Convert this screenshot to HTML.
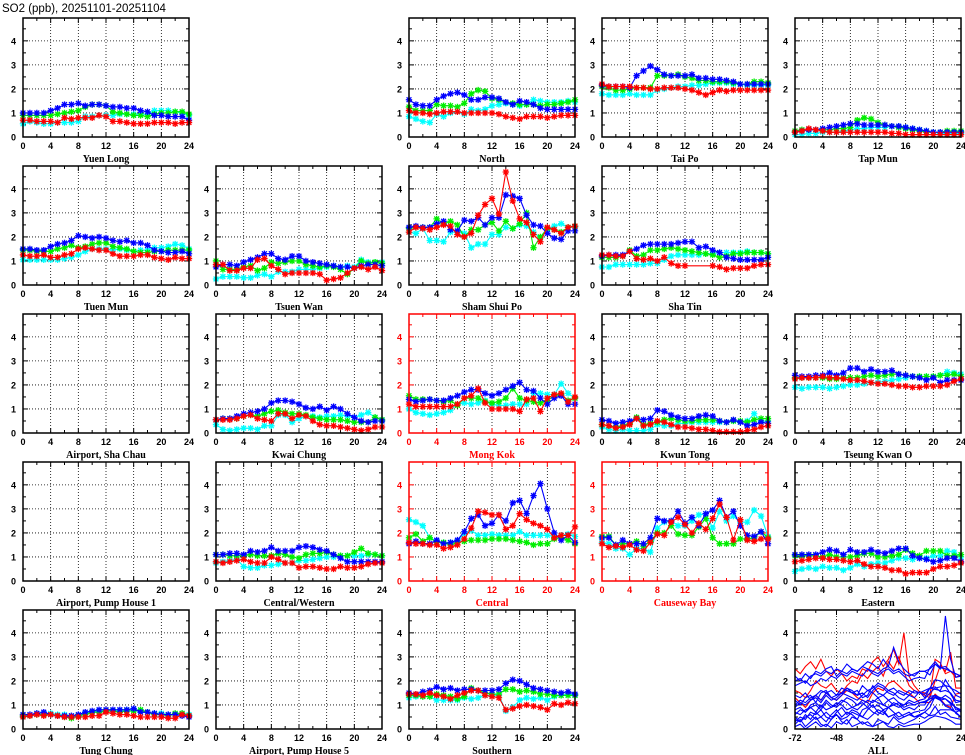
<!DOCTYPE html>
<html><head><meta charset="utf-8">
<style>
html,body{margin:0;padding:0;background:#fff;}
svg{display:block;}
</style></head>
<body>
<svg id="chart" width="965" height="755" viewBox="0 0 965 755" xmlns="http://www.w3.org/2000/svg">
<text x="2" y="12" font-family="Liberation Sans, sans-serif" font-size="11.5" fill="#000">SO2 (ppb), 20251101-20251104</text>
</svg>
<script>
// ---- data ----
const hours = [0,1,2,3,4,5,6,7,8,9,10,11,12,13,14,15,16,17,18,19,20,21,22,23,24];
const xTicks = [0,4,8,12,16,20,24];
const yTicks = [0,1,2,3,4];
const allXTicks = [-72,-48,-24,0,24];
const allHours = [-72,-69,-66,-63,-60,-57,-54,-51,-48,-45,-42,-39,-36,-33,-30,-27,-24,-21,-18,-15,-12,-9,-6,-3,0,3,6,9,12,15,18,21,24];
const seriesColors = ['#00ffff','#00ee00','#0000ff','#ff0000'];

const yuenLongC=[0.55,0.65,0.6,0.55,0.55,0.6,0.6,0.6,0.65,0.85,0.85,0.9,0.9,0.9,0.95,0.95,0.95,0.95,0.95,1.1,1.1,1.1,1.05,1.0,0.9];
const yuenLongG=[0.9,0.9,0.9,0.9,0.9,0.95,1.0,1.05,1.1,1.25,1.35,1.35,1.3,1.05,1.0,0.95,0.9,0.9,0.85,0.95,1.0,1.0,1.05,1.05,0.95];
const yuenLongB=[1.0,1.0,1.0,1.0,1.1,1.2,1.35,1.35,1.4,1.3,1.35,1.35,1.3,1.25,1.25,1.2,1.2,1.1,1.05,0.9,0.9,0.85,0.85,0.85,0.7];
const yuenLongR=[0.7,0.7,0.65,0.65,0.65,0.6,0.8,0.75,0.8,0.8,0.8,0.9,0.85,0.65,0.65,0.6,0.55,0.55,0.55,0.6,0.6,0.6,0.55,0.6,0.6];

const northC=[0.85,0.75,0.65,0.6,0.95,0.85,1.0,1.05,0.95,1.15,1.1,1.15,1.3,1.35,1.4,1.35,1.3,1.35,1.55,1.5,1.45,1.45,1.45,1.5,1.45];
const northG=[1.25,1.1,1.1,1.1,1.35,1.3,1.3,1.25,1.4,1.8,1.95,1.9,1.6,1.55,1.45,1.4,1.35,1.35,1.35,1.3,1.35,1.35,1.4,1.45,1.55];
const northB=[1.55,1.35,1.3,1.3,1.55,1.7,1.8,1.85,1.75,1.55,1.55,1.65,1.65,1.6,1.45,1.35,1.5,1.45,1.35,1.2,1.15,1.15,1.15,1.15,1.15];
const northR=[1.1,1.0,1.0,0.95,1.0,1.05,1.05,1.05,1.0,1.0,1.0,1.0,1.0,0.95,0.85,0.8,0.75,0.85,0.85,0.85,0.8,0.85,0.9,0.9,0.9];

const taiPoC=[1.8,1.75,1.75,1.75,1.8,1.75,1.75,1.75,1.95,2.0,2.05,2.1,2.1,2.15,2.15,2.2,2.25,2.25,2.25,2.2,2.2,2.15,2.15,2.15,2.15];
const taiPoG=[2.1,2.05,1.95,1.95,2.0,2.05,2.05,2.05,2.55,2.55,2.55,2.6,2.5,2.45,2.35,2.35,2.3,2.3,2.3,2.25,2.2,2.2,2.3,2.3,2.25];
const taiPoB=[2.15,2.1,2.1,2.1,2.05,2.55,2.75,2.95,2.8,2.6,2.55,2.55,2.55,2.6,2.45,2.45,2.4,2.4,2.35,2.3,2.2,2.2,2.2,2.2,2.2];
const taiPoR=[2.2,2.1,2.1,2.1,2.1,2.05,2.05,2.0,2.0,2.05,2.05,2.05,2.0,1.95,1.85,1.75,1.85,1.95,1.9,1.95,1.95,1.95,1.95,1.95,1.95];

const tapMunC=[0.1,0.1,0.15,0.15,0.2,0.2,0.2,0.25,0.3,0.35,0.35,0.4,0.4,0.4,0.45,0.45,0.4,0.35,0.3,0.25,0.2,0.15,0.15,0.15,0.15];
const tapMunG=[0.25,0.3,0.3,0.3,0.3,0.3,0.35,0.35,0.4,0.7,0.8,0.75,0.6,0.5,0.45,0.4,0.35,0.3,0.25,0.2,0.2,0.2,0.25,0.25,0.25];
const tapMunB=[0.2,0.25,0.3,0.3,0.35,0.4,0.45,0.5,0.55,0.55,0.5,0.5,0.5,0.5,0.45,0.45,0.4,0.35,0.3,0.25,0.2,0.2,0.2,0.2,0.2];
const tapMunR=[0.2,0.25,0.35,0.3,0.25,0.2,0.2,0.2,0.2,0.2,0.2,0.2,0.2,0.2,0.15,0.15,0.1,0.1,0.1,0.1,0.1,0.1,0.1,0.1,0.1];

const tuenMunC=[1.05,1.05,1.05,1.05,1.05,1.05,1.1,1.15,1.25,1.4,1.5,1.5,1.5,1.45,1.5,1.45,1.4,1.45,1.45,1.55,1.55,1.6,1.7,1.65,1.5];
const tuenMunG=[1.45,1.45,1.4,1.4,1.4,1.5,1.55,1.65,1.55,1.6,1.7,1.75,1.75,1.6,1.55,1.5,1.4,1.35,1.35,1.4,1.4,1.45,1.45,1.45,1.45];
const tuenMunB=[1.5,1.5,1.45,1.45,1.6,1.7,1.75,1.85,2.05,2.0,1.95,2.0,1.95,1.85,1.8,1.85,1.75,1.75,1.65,1.45,1.4,1.35,1.35,1.4,1.3];
const tuenMunR=[1.25,1.2,1.2,1.25,1.15,1.15,1.25,1.3,1.5,1.55,1.5,1.45,1.45,1.3,1.2,1.2,1.2,1.25,1.25,1.15,1.1,1.05,1.15,1.1,1.1];

const tsuenWanC=[0.25,0.35,0.35,0.35,0.3,0.3,0.4,0.45,0.35,0.55,0.55,0.55,0.65,0.65,0.65,0.7,0.75,0.8,0.75,0.8,0.75,1.05,0.95,0.95,0.95];
const tsuenWanG=[1.0,0.65,0.65,0.65,0.75,0.8,0.6,0.7,0.95,0.9,0.95,1.0,1.0,0.85,0.8,0.75,0.8,0.75,0.65,0.45,0.7,1.0,0.9,0.95,0.9];
const tsuenWanB=[0.75,0.85,0.85,0.8,0.95,1.05,1.15,1.3,1.3,1.1,1.05,1.2,1.2,1.0,0.95,0.9,0.85,0.8,0.75,0.75,0.7,0.8,0.85,0.85,0.8];
const tsuenWanR=[0.85,0.85,0.6,0.6,0.7,0.7,1.05,1.1,0.8,0.65,0.45,0.5,0.5,0.5,0.5,0.45,0.2,0.25,0.3,0.5,0.7,0.75,0.65,0.75,0.6];

const shamShuiPoC=[2.2,2.15,2.35,1.85,1.85,1.8,2.2,2.2,2.15,1.55,1.7,1.7,2.1,2.1,2.4,2.35,2.5,2.45,2.2,1.95,2.3,2.45,2.55,2.4,2.4];
const shamShuiPoG=[2.35,2.4,2.4,2.4,2.75,2.55,2.65,2.5,2.0,2.3,2.3,2.5,2.6,2.25,2.65,2.35,2.55,3.0,1.55,2.0,2.35,2.3,2.2,2.4,2.45];
const shamShuiPoB=[2.4,2.45,2.4,2.4,2.55,2.65,2.3,2.25,2.7,2.65,2.8,2.5,2.8,2.8,3.75,3.7,3.6,2.9,2.5,2.45,2.15,1.95,1.9,2.25,2.25];
const shamShuiPoR=[2.2,2.4,2.35,2.3,2.4,2.5,2.45,2.1,2.0,2.15,2.9,3.35,3.6,2.95,4.7,3.5,2.75,2.6,2.1,1.8,2.4,2.3,2.15,2.4,2.45];

const shaTinC=[0.75,0.75,0.85,0.85,0.85,0.85,0.85,0.9,0.9,1.05,1.2,1.25,1.25,1.25,1.25,1.3,1.3,1.35,1.35,1.35,1.35,1.4,1.35,1.35,1.3];
const shaTinG=[1.15,1.15,1.15,1.2,1.45,1.2,1.25,1.45,1.45,1.5,1.55,1.5,1.45,1.4,1.35,1.3,1.25,1.15,1.2,1.3,1.3,1.35,1.35,1.35,1.3];
const shaTinB=[1.2,1.25,1.25,1.25,1.4,1.5,1.65,1.7,1.7,1.7,1.7,1.75,1.8,1.8,1.55,1.6,1.45,1.35,1.15,1.1,1.05,1.05,1.05,1.05,1.15];
const shaTinR=[1.25,1.25,1.2,1.2,1.4,1.1,1.05,1.1,1.0,1.15,0.9,0.8,0.8,null,null,null,0.8,0.75,0.65,0.7,0.7,0.7,0.8,0.85,0.85];

const kwaiChungC=[0.35,0.15,0.1,0.15,0.2,0.2,0.15,0.3,0.3,0.75,0.75,0.45,0.6,0.7,0.7,0.65,0.7,0.7,0.75,0.7,0.65,0.75,0.85,0.65,0.55];
const kwaiChungG=[0.55,0.6,0.6,0.6,0.7,0.75,0.7,0.8,0.9,0.95,0.85,0.8,0.8,0.75,0.65,0.6,0.55,0.55,0.55,0.5,0.45,0.45,0.45,0.65,0.55];
const kwaiChungB=[0.55,0.6,0.6,0.7,0.8,0.85,0.9,1.0,1.25,1.35,1.35,1.3,1.2,1.05,1.0,1.1,0.95,1.1,1.0,0.8,0.65,0.5,0.45,0.5,0.5];
const kwaiChungR=[0.55,0.55,0.55,0.6,0.7,0.75,0.6,0.55,0.5,0.8,0.8,0.6,0.75,0.7,0.5,0.35,0.3,0.3,0.25,0.2,0.15,0.1,0.15,0.25,0.25];

const mongKokC=[1.0,0.85,0.8,0.75,0.8,0.85,0.95,1.2,1.25,1.2,1.25,1.35,1.2,1.15,1.15,1.2,1.2,1.2,1.65,1.65,1.6,1.6,2.05,1.65,1.45];
const mongKokG=[1.55,1.4,1.4,1.4,1.35,1.3,1.35,1.15,1.45,1.45,1.45,1.3,1.25,1.3,1.45,1.85,1.45,1.35,1.3,1.25,1.35,1.55,1.6,1.35,1.45];
const mongKokB=[1.4,1.3,1.35,1.4,1.35,1.35,1.45,1.55,1.7,1.8,1.8,1.65,1.55,1.65,1.8,1.95,2.1,1.8,1.75,1.45,1.2,1.45,1.55,1.2,1.2];
const mongKokR=[1.2,1.1,1.1,1.1,1.1,1.1,1.1,1.2,1.45,1.55,1.85,1.25,1.0,1.0,1.0,1.0,0.9,1.4,1.45,0.9,1.45,1.6,1.65,1.3,1.5];

const kwunTongC=[0.25,0.15,0.1,0.15,0.1,0.1,0.1,0.15,0.35,0.3,0.3,0.4,0.4,0.45,0.45,0.45,0.45,0.45,0.45,0.5,0.45,0.5,0.8,0.5,0.5];
const kwunTongG=[0.35,0.3,0.25,0.3,0.4,0.65,0.35,0.4,0.45,0.55,0.6,0.55,0.5,0.5,0.55,0.55,0.55,0.5,0.45,0.5,0.5,0.45,0.55,0.6,0.6];
const kwunTongB=[0.55,0.5,0.4,0.45,0.5,0.6,0.55,0.6,0.95,0.9,0.75,0.65,0.6,0.6,0.7,0.75,0.7,0.5,0.45,0.55,0.45,0.3,0.35,0.45,0.4];
const kwunTongR=[0.35,0.3,0.2,0.25,0.35,0.6,0.3,0.35,0.5,0.45,0.35,0.25,0.25,0.2,0.15,0.15,0.1,0.05,0.05,0.05,0.05,0.1,0.15,0.25,0.3];

const tkoC=[1.9,1.85,1.9,1.9,1.9,1.85,1.9,1.95,2.0,2.0,2.05,2.1,2.1,2.15,2.2,2.25,2.3,2.35,2.35,2.35,2.35,2.4,2.55,2.5,2.45];
const tkoG=[2.3,2.3,2.3,2.3,2.3,2.25,2.25,2.3,2.3,2.3,2.35,2.4,2.35,2.4,2.45,2.45,2.4,2.35,2.35,2.35,2.35,2.4,2.4,2.45,2.35];
const tkoB=[2.4,2.35,2.35,2.4,2.4,2.5,2.4,2.5,2.7,2.7,2.55,2.65,2.55,2.55,2.6,2.45,2.4,2.35,2.3,2.2,2.3,2.1,2.2,2.2,2.2];
const tkoR=[2.25,2.3,2.3,2.3,2.35,2.3,2.3,2.25,2.2,2.2,2.15,2.1,2.05,2.05,2.0,1.95,1.95,1.9,1.9,1.95,1.95,1.95,2.0,2.15,2.25];

const centralWesternC=[0.75,0.8,0.85,0.9,0.6,0.55,0.55,0.65,0.65,0.7,0.75,0.75,0.85,0.85,0.9,0.95,1.0,1.0,1.05,1.05,1.05,1.05,1.1,1.1,1.05];
const centralWesternG=[1.1,1.1,1.05,1.05,1.05,1.1,1.05,1.05,1.05,1.15,1.1,1.0,0.95,1.1,1.15,1.15,1.2,1.1,1.05,1.05,1.2,1.35,1.15,1.1,1.05];
const centralWesternB=[1.1,1.1,1.15,1.15,1.1,1.25,1.2,1.25,1.4,1.25,1.25,1.25,1.4,1.45,1.4,1.3,1.25,1.1,0.95,0.8,0.8,0.8,0.8,0.8,0.8];
const centralWesternR=[0.8,0.75,0.8,0.85,0.9,0.8,0.75,0.75,1.0,0.9,0.75,0.75,0.55,0.6,0.6,0.55,0.5,0.5,0.6,0.55,0.55,0.6,0.7,0.75,0.75];

const centralC=[2.55,2.45,2.3,1.8,1.65,1.6,1.6,1.65,1.95,2.1,1.9,1.9,1.95,1.9,1.9,1.9,2.05,1.9,1.9,1.9,1.9,1.85,1.9,1.95,1.85];
const centralG=[1.8,1.95,1.65,1.8,1.6,1.6,1.5,1.6,1.65,1.7,1.7,1.7,1.75,1.75,1.75,1.7,1.65,1.6,1.5,1.55,1.55,1.75,1.8,1.7,1.55];
const centralB=[1.55,1.65,1.55,1.55,1.7,1.55,1.6,1.7,2.05,2.6,2.75,2.3,2.4,2.75,2.5,3.25,3.35,2.8,3.55,4.05,3.0,2.0,1.7,1.9,1.6];
const centralR=[1.6,1.55,1.55,1.5,1.5,1.35,1.4,1.5,1.75,2.2,2.9,2.85,2.75,2.75,2.15,2.3,2.8,2.55,2.4,2.3,2.15,1.8,1.9,1.9,2.25];

const causewayBayC=[1.6,1.55,1.35,1.35,1.1,1.35,1.35,1.2,2.2,2.45,2.5,2.3,2.3,2.5,2.75,2.8,2.2,2.9,2.5,2.7,2.45,2.45,2.95,2.7,1.85];
const causewayBayG=[1.85,1.85,1.5,1.55,1.55,1.65,1.45,1.65,2.0,2.0,2.3,1.95,1.9,1.9,2.25,2.6,1.8,1.55,1.55,1.55,1.75,1.75,1.8,2.05,1.8];
const causewayBayB=[1.8,1.8,1.5,1.7,1.55,1.55,1.55,1.8,2.6,2.5,2.5,2.9,2.4,2.65,2.3,2.8,2.95,3.35,2.65,2.9,2.3,1.9,1.85,2.05,1.55];
const causewayBayR=[1.55,1.4,1.45,1.4,1.5,1.3,1.25,1.6,1.95,1.9,2.45,2.65,2.35,2.0,2.4,2.15,2.6,3.2,2.65,1.7,2.55,1.7,1.65,1.75,1.75];

const easternC=[0.4,0.5,0.55,0.5,0.6,0.55,0.55,0.45,0.55,0.7,0.6,0.7,0.75,0.75,0.85,0.95,0.95,0.9,0.95,0.95,1.05,1.05,1.25,1.2,1.0];
const easternG=[1.05,1.05,1.05,1.05,1.0,1.1,1.0,1.0,1.0,1.05,1.15,1.15,1.0,1.0,1.05,1.1,1.3,1.15,1.05,1.25,1.25,1.25,1.05,1.05,1.1];
const easternB=[1.1,1.1,1.1,1.1,1.2,1.3,1.25,1.1,1.3,1.2,1.2,1.3,1.2,1.15,1.25,1.35,1.35,1.05,0.95,0.9,0.8,0.85,0.95,0.95,0.8];
const easternR=[0.8,0.85,0.9,0.95,0.95,0.9,0.9,0.85,0.8,0.85,0.7,0.6,0.6,0.55,0.45,0.45,0.3,0.35,0.35,0.35,0.5,0.6,0.6,0.65,0.75];

const tungChungC=[0.5,0.55,0.65,0.65,0.65,0.6,0.6,0.55,0.55,0.65,0.7,0.75,0.75,0.75,0.75,0.8,0.8,0.75,0.7,0.65,0.65,0.6,0.6,0.65,0.6];
const tungChungG=[0.55,0.55,0.6,0.6,0.6,0.55,0.5,0.45,0.55,0.6,0.7,0.7,0.75,0.75,0.7,0.75,0.75,0.8,0.7,0.6,0.6,0.55,0.65,0.65,0.55];
const tungChungB=[0.6,0.6,0.65,0.7,0.6,0.55,0.55,0.55,0.6,0.7,0.75,0.8,0.8,0.8,0.8,0.8,0.85,0.7,0.7,0.65,0.6,0.6,0.6,0.55,0.5];
const tungChungR=[0.5,0.55,0.6,0.55,0.6,0.55,0.5,0.5,0.5,0.5,0.55,0.55,0.7,0.65,0.6,0.6,0.55,0.5,0.5,0.5,0.5,0.45,0.45,0.6,0.55];

const southernC=[1.3,1.35,1.35,1.35,1.2,1.2,1.2,1.2,1.3,1.25,1.3,1.4,1.4,1.4,0.75,0.9,1.2,1.3,1.25,1.3,1.2,1.35,1.4,1.45,1.4];
const southernG=[1.4,1.4,1.35,1.35,1.45,1.4,1.35,1.25,1.35,1.7,1.6,1.5,1.45,1.45,1.65,1.65,1.55,1.6,1.55,1.45,1.45,1.4,1.4,1.4,1.4];
const southernB=[1.5,1.45,1.55,1.6,1.75,1.65,1.7,1.6,1.65,1.65,1.6,1.6,1.6,1.65,1.9,2.05,2.0,1.85,1.7,1.65,1.6,1.55,1.5,1.55,1.45];
const southernR=[1.45,1.45,1.4,1.5,1.4,1.35,1.25,1.4,1.5,1.6,1.6,1.4,1.35,1.3,0.8,0.85,0.95,1.0,0.95,0.9,0.8,1.05,1.0,1.1,1.05];

// ALL panel series (3-hourly)
const allRed1=[2.5,2.3,2.6,2.8,2.5,2.9,2.4,2.2,2.5,2.3,2.0,2.2,2.1,2.5,2.4,2.8,3.0,2.6,2.9,3.3,2.7,4.0,2.2,1.8,1.55,1.5,1.4,2.9,2.75,2.3,2.4,2.15,2.25];
const allRed2=[1.6,1.5,1.3,1.6,2.0,1.8,1.7,1.9,1.6,1.5,1.8,2.0,1.9,2.3,2.1,2.4,2.6,2.2,2.8,2.5,3.0,2.4,1.8,1.6,1.5,1.4,1.3,2.0,2.65,2.4,3.2,1.7,1.7];
const allRed3=[1.3,1.1,0.9,1.2,1.4,1.2,1.5,1.3,1.2,1.4,1.6,1.5,1.3,1.2,1.1,1.5,1.7,1.6,1.9,2.0,1.8,1.6,1.5,1.3,1.1,1.1,1.1,1.45,1.25,1.0,0.9,1.45,1.5];
const allBlue1=[2.2,2.0,2.3,2.1,2.4,2.3,2.5,2.6,2.2,2.4,2.7,2.5,2.4,2.6,2.8,2.7,2.5,2.9,2.6,3.4,2.8,2.5,2.3,2.2,2.4,2.4,2.25,2.7,2.5,4.7,2.9,2.15,2.2];
const allBlue2=[2.0,2.1,1.9,2.2,2.3,2.2,2.4,2.3,2.5,2.4,2.3,2.5,2.4,2.6,2.5,2.4,2.3,2.5,2.6,2.4,2.5,2.3,2.2,2.3,2.4,2.4,2.5,2.7,2.55,2.6,2.4,2.3,2.2];
const allBlue3=[1.8,1.9,2.0,1.8,1.9,2.1,2.0,2.2,2.1,2.3,2.2,2.4,2.3,2.2,2.5,2.3,2.2,2.4,2.5,2.3,2.4,2.2,2.0,2.1,2.15,2.1,2.55,2.8,2.55,2.5,2.4,2.3,2.2];
const allBlue4=[1.0,1.2,1.1,1.3,1.4,1.2,1.5,1.6,1.4,1.7,1.6,1.5,1.4,1.8,1.6,1.7,1.9,1.8,1.6,1.7,1.5,1.4,1.6,1.5,1.5,1.45,1.7,2.05,2.0,1.8,1.75,1.4,1.3];
const allBlue5=[1.2,1.0,1.3,1.4,1.1,1.5,1.6,1.3,1.2,1.4,1.7,1.5,1.6,1.3,1.4,1.8,1.5,1.4,1.6,1.5,1.3,1.2,1.4,1.3,1.55,1.3,1.7,1.75,1.55,1.6,1.5,1.2,1.15];
const allBlue6=[0.9,1.1,1.0,1.2,1.3,1.1,1.4,1.2,1.3,1.5,1.4,1.3,1.2,1.4,1.6,1.5,1.3,1.4,1.2,1.3,1.1,1.0,1.2,1.1,1.2,1.25,1.5,1.7,1.75,1.8,1.45,1.1,1.15];
const allBlue7=[1.4,1.3,1.5,1.2,1.4,1.6,1.5,1.3,1.4,1.5,1.7,1.6,1.4,1.5,1.3,1.6,1.8,1.7,1.5,1.4,1.6,1.5,1.4,1.6,1.5,1.6,1.7,1.65,1.6,2.05,1.7,1.6,1.45];
const allBlue8=[0.6,0.8,0.7,0.9,1.0,0.8,1.1,0.9,1.0,1.2,1.1,0.9,0.8,1.0,1.2,1.1,1.3,1.0,0.9,1.1,1.0,0.8,0.9,0.8,1.0,1.0,1.35,1.4,1.3,1.25,1.1,0.9,0.7];
const allBlue9=[0.8,0.9,0.7,1.0,1.1,0.9,1.2,1.0,0.9,1.1,1.3,1.2,1.0,1.1,0.9,1.2,1.1,1.0,1.2,1.0,0.9,1.0,1.1,1.0,1.1,1.15,1.25,1.4,1.25,1.4,1.25,0.8,0.8];
const allBlue10=[0.7,0.6,0.8,0.9,0.7,1.0,0.8,0.9,1.1,1.0,0.8,0.9,1.0,1.2,1.1,0.9,1.0,0.8,0.9,1.0,1.1,0.9,1.0,1.0,1.1,1.1,1.25,1.3,1.2,1.25,1.05,0.9,0.8];
const allBlue11=[0.5,0.3,0.6,0.4,0.7,0.5,0.3,0.6,0.8,0.5,0.7,0.6,0.4,0.8,0.9,0.7,0.6,0.8,0.5,0.6,0.7,0.5,0.6,0.7,0.75,0.8,1.15,1.3,1.2,0.95,0.85,0.7,0.8];
const allBlue12=[0.3,0.5,0.4,0.7,0.6,0.8,0.5,0.4,0.7,0.9,0.6,0.8,0.7,0.5,0.8,1.0,0.7,0.6,0.9,0.7,0.5,0.6,0.7,0.5,0.55,0.7,0.9,1.35,1.2,1.0,1.0,0.65,0.5];
const allBlue13=[0.4,0.3,0.5,0.6,0.4,0.5,0.7,0.5,0.6,0.4,0.5,0.7,0.6,0.5,0.4,0.6,0.8,0.7,0.5,0.6,0.4,0.5,0.6,0.5,0.6,0.7,0.55,0.6,0.8,0.8,0.8,0.7,0.5];
const allBlue14=[0.2,0.4,0.1,0.3,0.5,0.2,0.1,0.4,0.6,0.3,0.2,0.5,0.4,0.2,0.3,0.1,0.4,0.3,0.2,0.5,0.3,0.2,0.3,0.4,0.55,0.45,0.6,0.95,0.6,0.7,0.5,0.45,0.4];
const allBlue15=[0.1,0.2,0.0,0.15,0.3,0.1,0.2,0.05,0.3,0.2,0.4,0.1,0.2,0.3,0.15,0.1,0.2,0.3,0.1,0.05,0.2,0.1,0.15,0.2,0.2,0.3,0.45,0.55,0.5,0.45,0.35,0.2,0.2];

// ---- layout ----
const colLeft=[23,216,409,602,795], rowTop=[18,166,314,462,610];
const PW=166, PH=119, YMAX=4.95;
const NS='http://www.w3.org/2000/svg';
const svg=document.getElementById('chart');
function mk(tag,attrs,parent){const e=document.createElementNS(NS,tag);for(const k in attrs)e.setAttribute(k,attrs[k]);(parent||svg).appendChild(e);return e;}

const stations=[
 {name:'Yuen Long',r:0,c:0,d:[yuenLongC,yuenLongG,yuenLongB,yuenLongR]},
 {name:'North',r:0,c:2,d:[northC,northG,northB,northR]},
 {name:'Tai Po',r:0,c:3,d:[taiPoC,taiPoG,taiPoB,taiPoR]},
 {name:'Tap Mun',r:0,c:4,d:[tapMunC,tapMunG,tapMunB,tapMunR]},
 {name:'Tuen Mun',r:1,c:0,d:[tuenMunC,tuenMunG,tuenMunB,tuenMunR]},
 {name:'Tsuen Wan',r:1,c:1,d:[tsuenWanC,tsuenWanG,tsuenWanB,tsuenWanR]},
 {name:'Sham Shui Po',r:1,c:2,d:[shamShuiPoC,shamShuiPoG,shamShuiPoB,shamShuiPoR]},
 {name:'Sha Tin',r:1,c:3,d:[shaTinC,shaTinG,shaTinB,shaTinR]},
 {name:'Airport, Sha Chau',r:2,c:0,d:null},
 {name:'Kwai Chung',r:2,c:1,d:[kwaiChungC,kwaiChungG,kwaiChungB,kwaiChungR]},
 {name:'Mong Kok',r:2,c:2,red:true,d:[mongKokC,mongKokG,mongKokB,mongKokR]},
 {name:'Kwun Tong',r:2,c:3,d:[kwunTongC,kwunTongG,kwunTongB,kwunTongR]},
 {name:'Tseung Kwan O',r:2,c:4,d:[tkoC,tkoG,tkoB,tkoR]},
 {name:'Airport, Pump House 1',r:3,c:0,d:null},
 {name:'Central/Western',r:3,c:1,d:[centralWesternC,centralWesternG,centralWesternB,centralWesternR]},
 {name:'Central',r:3,c:2,red:true,d:[centralC,centralG,centralB,centralR]},
 {name:'Causeway Bay',r:3,c:3,red:true,d:[causewayBayC,causewayBayG,causewayBayB,causewayBayR]},
 {name:'Eastern',r:3,c:4,d:[easternC,easternG,easternB,easternR]},
 {name:'Tung Chung',r:4,c:0,d:[tungChungC,tungChungG,tungChungB,tungChungR]},
 {name:'Airport, Pump House 5',r:4,c:1,d:null},
 {name:'Southern',r:4,c:2,d:[southernC,southernG,southernB,southernR]},
 {name:'ALL',r:4,c:4,all:true}
];

function slug(s){return s.toLowerCase().replace(/[^a-z0-9]+/g,'-').replace(/^-|-$/g,'');}

function drawAxes(g,L,T,xmin,xmax,ticks,minorStep,col){
  const xs=v=>L+(v-xmin)/(xmax-xmin)*PW, ys=v=>T+PH-v/YMAX*PH;
  // grid
  ticks.forEach(t=>{if(t>xmin&&t<xmax){const gl=mk('line',{x1:xs(t),x2:xs(t),y1:T,y2:T+PH,stroke:'#000','stroke-width':0.8,'stroke-dasharray':'1,2'},g);}});
  yTicks.forEach(t=>{if(t>0){const gl=mk('line',{x1:L,x2:L+PW,y1:ys(t),y2:ys(t),stroke:'#000','stroke-width':0.8,'stroke-dasharray':'1,2'},g);}});
  // minor/major ticks
  for(let v=xmin;v<=xmax+1e-9;v+=minorStep){const major=ticks.includes(v);const len=major?5:3;
    mk('line',{x1:xs(v),x2:xs(v),y1:T+PH,y2:T+PH-len,stroke:col,'stroke-width':1},g);
    mk('line',{x1:xs(v),x2:xs(v),y1:T,y2:T+len,stroke:col,'stroke-width':1},g);}
  for(let v=0;v<=YMAX;v+=0.5){const major=Math.abs(v-Math.round(v))<1e-9;const len=major?5:3;
    mk('line',{x1:L,x2:L+len,y1:ys(v),y2:ys(v),stroke:col,'stroke-width':1},g);
    mk('line',{x1:L+PW,x2:L+PW-len,y1:ys(v),y2:ys(v),stroke:col,'stroke-width':1},g);}
  // labels
  ticks.forEach(t=>{const tx=mk('text',{x:xs(t),y:T+PH+12,'text-anchor':'middle','font-family':'Liberation Sans, sans-serif','font-weight':'bold','font-size':9,fill:col},g);tx.textContent=t;});
  yTicks.forEach(t=>{const tx=mk('text',{x:L-7,y:ys(t)+3.5,'text-anchor':'end','font-family':'Liberation Sans, sans-serif','font-weight':'bold','font-size':9,fill:col},g);tx.textContent=t;});
  return {xs,ys};
}

function star(g,x,y,color){
  const s=3.2,d=2.4;
  const p=`M${x-s},${y}H${x+s}M${x},${y-s}V${y+s}M${x-d},${y-d}L${x+d},${y+d}M${x-d},${y+d}L${x+d},${y-d}`;
  const m=mk('path',{d:p,stroke:color,'stroke-width':1.3,fill:'none'},g);
  
  
}

stations.forEach(st=>{
  const L=colLeft[st.c],T=rowTop[st.r];
  const col=st.red?'#ff0000':'#000';
  const g=mk('g',{});
  
  
  let ax;
  if(st.all){
    ax=drawAxes(g,L,T,-72,24,allXTicks,12,col);
    const blues=[allBlue15,allBlue14,allBlue13,allBlue12,allBlue11,allBlue10,allBlue9,allBlue8,allBlue7,allBlue6,allBlue5,allBlue4,allBlue3,allBlue2,allBlue1];
    const reds=[allRed3,allRed2,allRed1];
    const drawL=(arr,color,nm)=>{const pts=arr.map((v,i)=>ax.xs(allHours[i]).toFixed(1)+','+ax.ys(v).toFixed(1)).join(' ');
      const pl=mk('polyline',{points:pts,fill:'none',stroke:color,'stroke-width':1.1},g);
      
      };
    reds.forEach(a=>drawL(a,'#ff0000','all-roadside-line'));
    blues.forEach(a=>drawL(a,'#0000ff','all-general-line'));
  } else {
    ax=drawAxes(g,L,T,0,24,xTicks,2,col);
    if(st.d){
      st.d.forEach((arr,si)=>{
        const color=seriesColors[si];
        let segs=[],cur=[];
        arr.forEach((v,i)=>{if(v===null){if(cur.length)segs.push(cur);cur=[];}else cur.push([ax.xs(hours[i]),ax.ys(v)]);});
        if(cur.length)segs.push(cur);
        // connect across gaps as in reference
        const all=segs.flat();
        const pl=mk('polyline',{points:all.map(p=>p[0].toFixed(1)+','+p[1].toFixed(1)).join(' '),fill:'none',stroke:color,'stroke-width':1.1},g);
        
        
        all.forEach(p=>star(g,p[0],p[1],color));
      });
    }
  }
  const fr=mk('rect',{x:L,y:T,width:PW,height:PH,fill:'none',stroke:col,'stroke-width':1.5},g);
  
  
  const lb=mk('text',{x:L+PW/2,y:T+PH+25,'text-anchor':'middle','font-family':'Liberation Serif, serif','font-weight':'bold','font-size':10,fill:col},g);
  lb.textContent=st.name;
  
  
});
</script>
</body></html>
